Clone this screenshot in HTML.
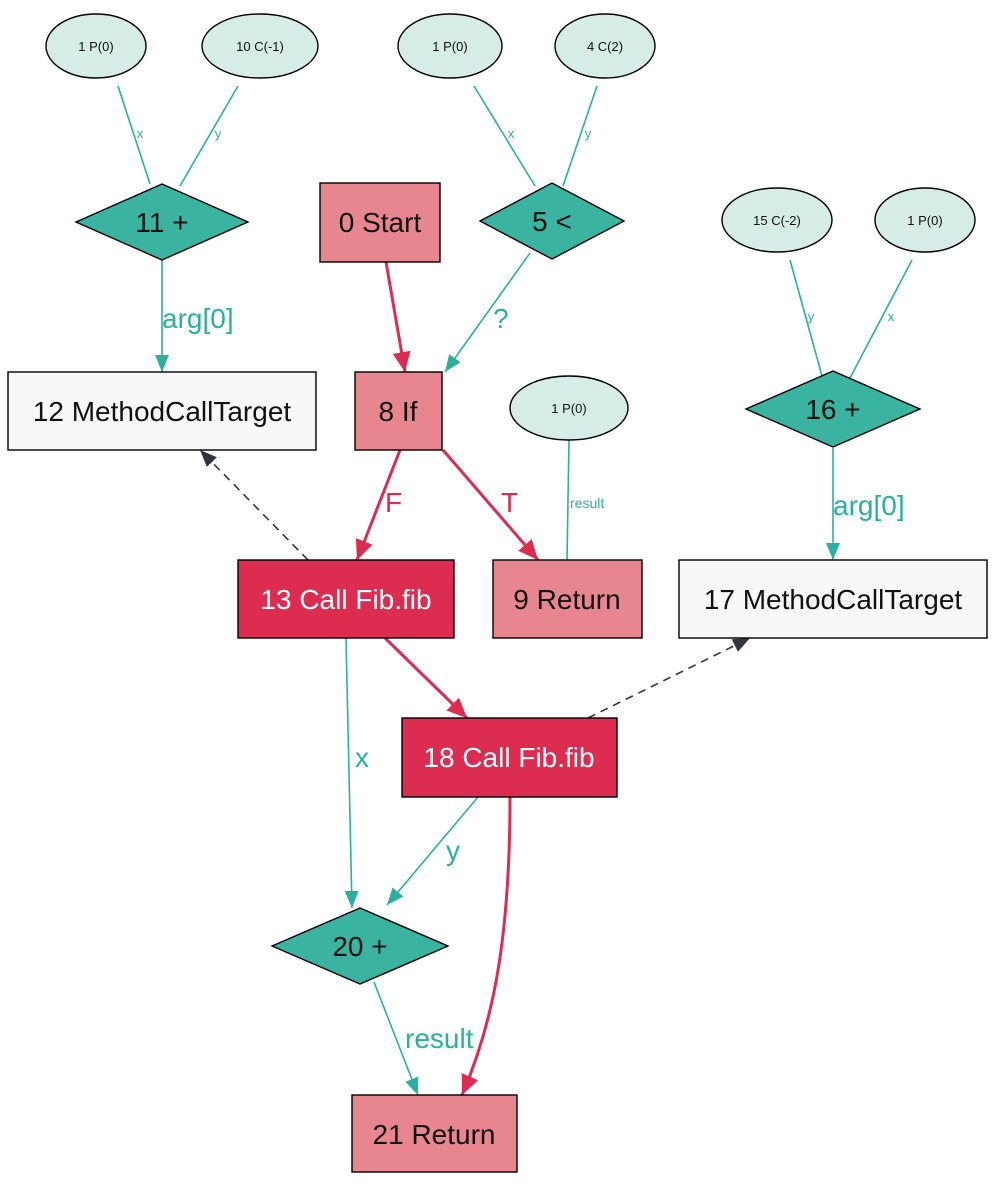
<!DOCTYPE html>
<html><head><meta charset="utf-8"><style>
html,body{margin:0;padding:0;background:#fff}
svg text{font-family:"Liberation Sans",Arial,sans-serif}
</style></head><body>
<svg width="1000" height="1182" viewBox="0 0 1000 1182" xmlns="http://www.w3.org/2000/svg">
<defs>
<marker id="ar" markerWidth="24" markerHeight="24" refX="20" refY="9" orient="auto" markerUnits="userSpaceOnUse"><path d="M0,0 L20,9 L0,18 z" fill="#dc2c50"/></marker>
<marker id="ad" markerWidth="20" markerHeight="20" refX="17" refY="7" orient="auto" markerUnits="userSpaceOnUse"><path d="M0,0 L17,7 L0,14 z" fill="#2f3640"/></marker>
<marker id="tt" markerWidth="20" markerHeight="20" refX="17" refY="7" orient="auto" markerUnits="userSpaceOnUse"><path d="M0,0 L17,7 L0,14 z" fill="#2ab09e"/></marker>
</defs>
<g fill="none" stroke="#2ab09e" stroke-width="1.6">
<line x1="118" y1="86" x2="150" y2="184"/>
<line x1="238" y1="86" x2="180" y2="186"/>
<line x1="474" y1="86" x2="535" y2="186"/>
<line x1="597" y1="86" x2="563" y2="186"/>
<line x1="790" y1="260" x2="822" y2="376"/>
<line x1="912" y1="260" x2="850" y2="378"/>
<line x1="569" y1="440" x2="567" y2="560"/>
<line x1="162" y1="260" x2="162" y2="372" marker-end="url(#tt)"/>
<line x1="530" y1="253" x2="445" y2="372" marker-end="url(#tt)"/>
<line x1="833" y1="448" x2="833" y2="560" marker-end="url(#tt)"/>
<line x1="346" y1="638" x2="352" y2="908" marker-end="url(#tt)"/>
<line x1="478" y1="797" x2="387" y2="905" marker-end="url(#tt)"/>
<line x1="374" y1="982" x2="418" y2="1095" marker-end="url(#tt)"/>
</g>
<g fill="none" stroke="#dc2c50" stroke-width="3">
<line x1="386" y1="262" x2="405" y2="372" marker-end="url(#ar)"/>
<line x1="400" y1="450" x2="357" y2="560" marker-end="url(#ar)"/>
<line x1="443" y1="450" x2="538" y2="560" marker-end="url(#ar)"/>
<line x1="385" y1="638" x2="467" y2="718" marker-end="url(#ar)"/>
<path d="M510,797 C510,950 490,1030 462,1095" marker-end="url(#ar)"/>
</g>
<g fill="none" stroke="#2f3640" stroke-width="1.6" stroke-dasharray="8,6">
<line x1="308" y1="560" x2="200" y2="450" marker-end="url(#ad)"/>
<line x1="588" y1="718" x2="750" y2="638" marker-end="url(#ad)"/>
</g>
<g fill="#d5ede6" stroke="#000" stroke-width="1.4">
<ellipse cx="96" cy="46" rx="50" ry="32"/>
<ellipse cx="260" cy="46" rx="58" ry="32"/>
<ellipse cx="450" cy="46" rx="52" ry="32"/>
<ellipse cx="605" cy="46" rx="50" ry="32"/>
<ellipse cx="777" cy="220" rx="55" ry="32"/>
<ellipse cx="925" cy="220" rx="50" ry="32"/>
<ellipse cx="569" cy="408" rx="59" ry="32"/>
</g>
<g fill="#3ab3a0" stroke="#000" stroke-width="1.4">
<polygon points="76,222 162,184 248,222 162,260"/>
<polygon points="480,221 552,183 624,221 552,259"/>
<polygon points="746,409 833,371 920,409 833,447"/>
<polygon points="272,946 360,908 448,946 360,984"/>
</g>
<g stroke="#000" stroke-width="1.4">
<rect x="320" y="183" width="120" height="79" fill="#e8868f"/>
<rect x="8" y="372" width="308" height="78" fill="#f8f8f8"/>
<rect x="355" y="372" width="87" height="78" fill="#e8868f"/>
<rect x="238" y="560" width="216" height="78" fill="#dc2c50"/>
<rect x="493" y="560" width="149" height="78" fill="#e8868f"/>
<rect x="679" y="560" width="308" height="78" fill="#f8f8f8"/>
<rect x="402" y="718" width="215" height="79" fill="#dc2c50"/>
<rect x="352" y="1095" width="165" height="77" fill="#e8868f"/>
</g>
<g font-size="13" text-anchor="middle" fill="#111">
<text x="96" y="51">1 P(0)</text>
<text x="260" y="51">10 C(-1)</text>
<text x="450" y="51">1 P(0)</text>
<text x="605" y="51">4 C(2)</text>
<text x="777" y="225">15 C(-2)</text>
<text x="925" y="225">1 P(0)</text>
<text x="569" y="413">1 P(0)</text>
</g>
<g font-size="28" text-anchor="middle" fill="#111">
<text x="162" y="232">11 +</text>
<text x="552" y="231">5 &lt;</text>
<text x="833" y="419">16 +</text>
<text x="360" y="956">20 +</text>
<text x="380" y="232">0 Start</text>
<text x="162" y="421">12 MethodCallTarget</text>
<text x="398" y="421">8 If</text>
<text x="567" y="609">9 Return</text>
<text x="833" y="609">17 MethodCallTarget</text>
<text x="434" y="1144">21 Return</text>
<text x="346" y="609" fill="#fff">13 Call Fib.fib</text>
<text x="509" y="767" fill="#fff">18 Call Fib.fib</text>
</g>
<g fill="#2ab09e">
<text x="140" y="138" font-size="13" text-anchor="middle">x</text>
<text x="218" y="138" font-size="13" text-anchor="middle">y</text>
<text x="511" y="138" font-size="13" text-anchor="middle">x</text>
<text x="588" y="138" font-size="13" text-anchor="middle">y</text>
<text x="811" y="321" font-size="13" text-anchor="middle">y</text>
<text x="891" y="321" font-size="13" text-anchor="middle">x</text>
<text x="570" y="508" font-size="14">result</text>
<text x="162" y="328" font-size="28">arg[0]</text>
<text x="493" y="328" font-size="28">?</text>
<text x="833" y="515" font-size="28">arg[0]</text>
<text x="355" y="767" font-size="28">x</text>
<text x="446" y="860" font-size="28">y</text>
<text x="405" y="1048" font-size="28">result</text>
</g>
<g fill="#dc2c50" font-size="28">
<text x="385" y="512">F</text>
<text x="501" y="512">T</text>
</g>
</svg>
</body></html>
